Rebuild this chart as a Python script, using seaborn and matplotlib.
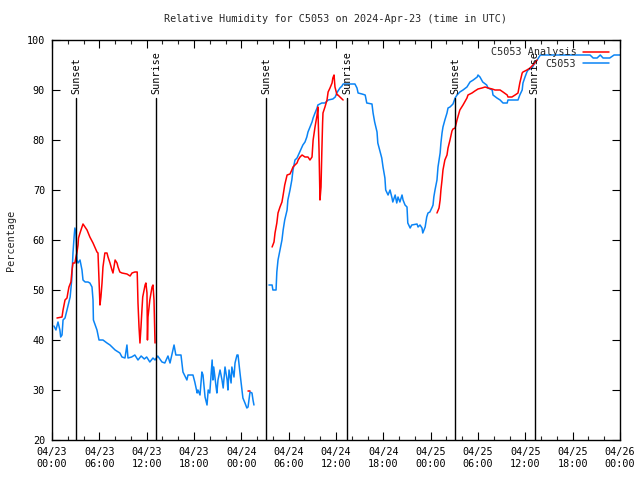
import numpy as np
import pandas as pd
import matplotlib
matplotlib.use("Agg")
import matplotlib.pyplot as plt
from matplotlib.lines import Line2D
import seaborn as sns

# ---------------- data (hours since 2024-04-23 00:00 UTC, % RH) ----------------
obs1_hours = [0.25, 0.5, 0.76, 1.0, 1.1, 1.27, 1.4, 1.65, 1.9, 2.3, 2.5, 2.66, 2.8, 2.9, 3.04, 3.17,
              3.3, 3.55, 3.8, 3.93, 4.2, 4.56, 4.8, 5.07, 5.2, 5.25, 5.7, 5.96, 6.46, 6.97, 7.35,
              8.0, 8.6, 8.87, 9.25, 9.5, 9.63, 10.1, 10.5, 10.9, 11.3, 11.7, 12.0, 12.4, 12.8,
              13.06, 13.4, 13.94, 14.3, 14.7, 14.96, 15.47, 15.7, 16.35, 16.6, 17.1, 17.24, 17.87,
              18.1, 18.4, 18.5, 18.76, 19.0, 19.14, 19.4, 19.65, 19.8, 20.0, 20.3, 20.4, 20.5,
              20.8, 20.9, 21.04, 21.3, 21.55, 21.7, 21.93, 22.2, 22.3, 22.44, 22.7, 22.8, 23.07,
              23.2, 23.45, 23.58, 23.83, 24.08, 24.2, 24.46, 24.7, 24.85, 25.1, 25.35, 25.48, 25.6]
obs1_values = [42.8, 42.0, 43.6, 42.0, 40.6, 41.0, 44.0, 44.4, 46.0, 48.6, 52.0, 57.4, 60.6, 62.4, 61.4, 56.0,
               55.4, 56.0, 54.0, 52.0, 51.6, 51.6, 51.4, 50.6, 48.0, 44.0, 42.0, 40.0, 40.0, 39.4, 39.0,
               38.0, 37.4, 36.6, 36.4, 39.0, 36.4, 36.6, 37.0, 36.0, 36.8, 36.2, 36.6, 35.6, 36.4,
               36.0, 36.8, 35.6, 35.4, 36.8, 35.4, 39.0, 37.0, 37.0, 33.6, 32.0, 33.0, 33.0,
               31.6, 29.4, 30.0, 29.0, 33.6, 33.0, 28.6, 27.0, 30.0, 29.4, 36.0, 32.0, 34.6,
               30.6, 29.4, 32.0, 34.0, 32.0, 30.4, 34.6, 32.0, 30.0, 34.0, 31.4, 34.6, 32.6,
               35.4, 37.0, 37.0, 33.4, 30.0, 28.4, 27.4, 26.4, 26.6, 29.6, 29.4, 28.0, 27.0]

obs2_hours = [27.5, 27.9, 28.0, 28.4, 28.5, 28.65, 28.9, 29.15, 29.3, 29.5, 29.8, 29.9, 30.17, 30.4,
              30.55, 30.8, 31.06, 31.4, 31.8, 32.07, 32.3, 32.45, 32.7, 32.96, 33.1, 33.34, 33.6,
              33.7, 34.2, 34.6, 35.0, 35.6, 35.9, 36.1, 36.25, 36.5, 36.76, 36.9, 38.0, 38.4,
              38.66, 38.8, 39.3, 39.7, 39.9, 40.56, 40.7, 40.9, 41.2, 41.3, 41.6, 41.8, 41.96,
              42.2, 42.3, 42.6, 42.85, 43.1, 43.2, 43.5, 43.7, 43.86, 44.1, 44.37, 44.5, 44.75,
              45.0, 45.1, 45.4, 45.6, 46.27, 46.4, 46.65, 46.9, 47.0, 47.3, 47.5, 47.66, 47.9,
              48.2, 48.3, 48.4, 48.55, 48.8, 48.93, 49.2, 49.3, 49.44, 49.56, 49.8, 50.07, 50.2,
              50.45, 50.7, 50.83, 51.1, 51.34, 51.7, 52.1, 52.6, 52.99, 53.4, 53.9, 54.0, 54.25,
              54.6, 55.1, 55.27, 55.8, 55.9, 56.4, 56.8, 57.17, 57.7, 57.8, 59.07, 59.3, 59.6,
              59.7, 59.96, 60.2, 60.34, 60.85, 61.2, 61.5, 61.9, 68.2, 68.6, 69.1, 69.5, 69.85,
              70.7, 71.25, 72.0]
obs2_values = [51.0, 51.0, 50.0, 50.0, 53.6, 56.0, 58.0, 60.0, 62.0, 64.0, 66.0, 68.0, 70.0, 72.0,
               74.0, 76.0, 76.4, 77.6, 79.0, 79.6, 80.6, 81.6, 82.6, 83.6, 84.4, 85.4, 86.4,
               87.0, 87.4, 87.4, 88.0, 88.2, 88.6, 89.4, 89.8, 90.4, 90.8, 91.2, 91.2, 91.2,
               90.4, 89.4, 89.2, 89.0, 87.4, 87.2, 85.4, 83.6, 81.6, 79.4, 77.6, 76.4, 74.6,
               72.4, 70.0, 69.0, 70.0, 68.4, 67.6, 69.0, 67.4, 68.6, 67.6, 69.0, 68.0, 67.0,
               66.6, 63.4, 62.4, 63.0, 63.2, 62.6, 63.0, 62.4, 61.4, 62.6, 64.6, 65.4, 65.6,
               66.6, 67.0, 68.6, 70.0, 72.0, 74.6, 77.4, 79.4, 81.4, 82.6, 84.0, 85.4, 86.4,
               86.6, 87.0, 87.2, 88.4, 89.0, 89.6, 90.0, 90.6, 91.6, 92.0, 92.6, 93.0, 92.6,
               91.6, 91.0, 90.4, 90.0, 89.0, 88.4, 88.0, 87.4, 87.4, 88.0, 88.0, 89.0, 90.0,
               91.4, 92.6, 93.6, 94.0, 94.4, 95.4, 96.0, 97.0, 97.0, 96.4, 96.4, 97.0, 96.4,
               96.4, 97.0, 97.0]

ana1_hours = [0.63, 1.27, 1.4, 1.65, 1.9, 2.03, 2.15, 2.4, 2.54, 2.66, 2.9, 3.04, 3.17, 3.3, 3.36,
              3.55, 3.8, 3.93, 4.44, 4.8, 5.2, 5.7, 5.83, 5.96, 6.08, 6.2, 6.34, 6.46, 6.7, 6.97,
              7.1, 7.35, 7.6, 7.73, 8.0, 8.24, 8.37, 8.6, 8.87, 9.5, 9.9, 10.14, 10.5, 10.8, 10.9,
              11.03, 11.15, 11.28, 11.4, 11.5, 11.8, 11.9, 12.04, 12.1, 12.17, 12.4, 12.68, 12.8,
              12.93, 13.06]
ana1_values = [44.4, 44.6, 46.0, 48.0, 48.4, 49.6, 50.6, 51.6, 54.0, 55.4, 55.4, 56.6, 57.6, 59.0, 60.4,
               61.4, 62.6, 63.2, 62.0, 60.6, 59.4, 57.6, 57.4, 52.0, 47.0, 48.6, 51.4, 54.6, 57.4, 57.4,
               56.6, 55.4, 54.0, 53.4, 56.0, 55.4, 54.6, 53.6, 53.4, 53.2, 52.8, 53.4, 53.6, 53.6, 47.4,
               42.6, 39.4, 42.6, 46.0, 48.6, 51.0, 51.4, 49.4, 40.0, 44.6, 48.0, 50.6, 51.0,
               48.0, 39.4]

ana2_hours = [24.85, 25.1]
ana2_values = [29.8, 29.8]

ana3_hours = [27.9, 28.14, 28.27, 28.5, 28.65, 28.9, 29.15, 29.3, 29.5, 29.8, 30.17, 30.4, 30.55, 30.8,
              31.06, 31.2, 31.44, 31.7, 32.07, 32.45, 32.7, 32.96, 33.1, 33.34, 33.6, 33.7, 33.85,
              33.97, 34.1, 34.2, 34.3, 34.35, 34.6, 34.86, 35.0, 35.24, 35.5, 35.6, 35.75, 35.87,
              36.13, 36.25, 36.5, 36.9]
ana3_values = [58.6, 59.6, 61.4, 63.4, 65.4, 66.6, 67.6, 69.0, 71.0, 73.0, 73.2, 74.0, 74.6, 75.0,
               75.4, 76.0, 76.6, 77.0, 76.6, 76.6, 76.0, 76.6, 80.0, 82.6, 85.0, 86.6, 78.0,
               68.0, 70.6, 77.4, 83.4, 85.4, 86.6, 88.0, 89.6, 90.4, 91.4, 92.4, 93.0, 90.6,
               89.0, 89.0, 88.6, 88.0]

ana4_hours = [48.8, 49.06, 49.2, 49.3, 49.44, 49.56, 49.8, 50.07, 50.2, 50.45, 50.7, 50.83, 51.1, 51.34,
              51.7, 52.1, 52.6, 52.73, 53.24, 53.6, 54.0, 54.5, 54.9, 55.27, 55.8, 56.16, 56.8, 57.17,
              57.7, 57.8, 58.3, 58.7, 59.07, 59.3, 59.6, 59.7, 60.2, 60.6, 60.97, 61.5]
ana4_values = [65.4, 66.4, 68.0, 70.0, 72.0, 74.0, 76.0, 77.0, 78.4, 80.0, 81.8, 82.2, 82.4, 84.0,
               86.0, 87.0, 88.4, 89.0, 89.4, 89.8, 90.2, 90.4, 90.6, 90.4, 90.2, 90.0, 90.0, 89.6,
               89.0, 88.6, 88.6, 89.0, 89.4, 91.4, 93.4, 93.6, 94.0, 94.4, 95.0, 96.0]

sun_hours = [3.04, 13.18, 27.13, 37.4, 51.08, 61.2]
sun_labels = ["Sunset", "Sunrise", "Sunset", "Sunrise", "Sunset", "Sunrise"]

x_tick_hours = [0, 6, 12, 18, 24, 30, 36, 42, 48, 54, 60, 66, 72]
x_tick_labels = ["04/23\n00:00", "04/23\n06:00", "04/23\n12:00", "04/23\n18:00",
                 "04/24\n00:00", "04/24\n06:00", "04/24\n12:00", "04/24\n18:00",
                 "04/25\n00:00", "04/25\n06:00", "04/25\n12:00", "04/25\n18:00",
                 "04/26\n00:00"]
y_ticks = [20, 30, 40, 50, 60, 70, 80, 90, 100]

title = "Relative Humidity for C5053 on 2024-Apr-23 (time in UTC)"
ana_label = "C5053 Analysis"
obs_label = "C5053"

# ---------------- build tables ----------------
def segs(pairs):
    frames = []
    for i, (h, v) in enumerate(pairs):
        frames.append(pd.DataFrame({"hour": h, "value": v, "seg": i}))
    return pd.concat(frames, ignore_index=True)

obs_df = segs([(obs1_hours, obs1_values), (obs2_hours, obs2_values)])
ana_df = segs([(ana1_hours, ana1_values), (ana2_hours, ana2_values),
               (ana3_hours, ana3_values), (ana4_hours, ana4_values)])

# ---------------- style ----------------
sns.set_style("ticks")
FONT = ["DejaVu Sans Mono"]
plt.rcParams["font.family"] = FONT
FS = 7.3
RED = "#ff0000"
BLUE = "#0a84f5"

fig = plt.figure(figsize=(6.4, 4.8), dpi=100)
ax = fig.add_axes([52 / 640, 1 - 440 / 480, 568 / 640, 400 / 480])

sns.lineplot(data=obs_df, x="hour", y="value", units="seg", estimator=None, sort=False,
             color=BLUE, linewidth=1.1, ax=ax)
sns.lineplot(data=ana_df, x="hour", y="value", units="seg", estimator=None, sort=False,
             color=RED, linewidth=1.1, ax=ax)

for h, lab in zip(sun_hours, sun_labels):
    ax.plot([h, h], [20, 88.4], color="black", linewidth=1.0)
    ax.text(h, 89.2, lab, rotation=90, ha="center", va="bottom", fontsize=FS, color="black")

ax.set_xlim(0, 72)
ax.set_ylim(20, 100)
ax.set_xticks(x_tick_hours)
ax.set_xticklabels(x_tick_labels, fontsize=FS)
ax.set_xticks(np.arange(0, 72.01, 2), minor=True)
ax.set_yticks(y_ticks)
ax.set_yticklabels([str(t) for t in y_ticks], fontsize=FS)
ax.tick_params(axis="both", which="major", direction="in", length=6, width=0.8,
               top=True, right=True, pad=5, colors="black")
ax.tick_params(axis="x", which="minor", direction="in", length=3, width=0.8, top=True)
for s in ax.spines.values():
    s.set_visible(True)
    s.set_linewidth(1.0)
    s.set_color("black")

ax.set_xlabel("")
ax.set_ylabel("Percentage", fontsize=FS, labelpad=8)
ax.yaxis.set_label_coords(-0.0627, 0.5)
fig.text(336 / 640, 1 - 19 / 480, title, ha="center", va="center", fontsize=FS)

handles = [Line2D([], [], color=RED, linewidth=1.1), Line2D([], [], color=BLUE, linewidth=1.1)]
leg = ax.legend(handles, [ana_label, obs_label], loc="upper right", markerfirst=False,
                frameon=False, fontsize=FS, handlelength=2.6, handletextpad=0.6,
                labelspacing=0.15, borderaxespad=0.3, bbox_to_anchor=(1.0 - 4 / 568, 1.0))

fig.savefig("out.png", dpi=100, facecolor="white")
